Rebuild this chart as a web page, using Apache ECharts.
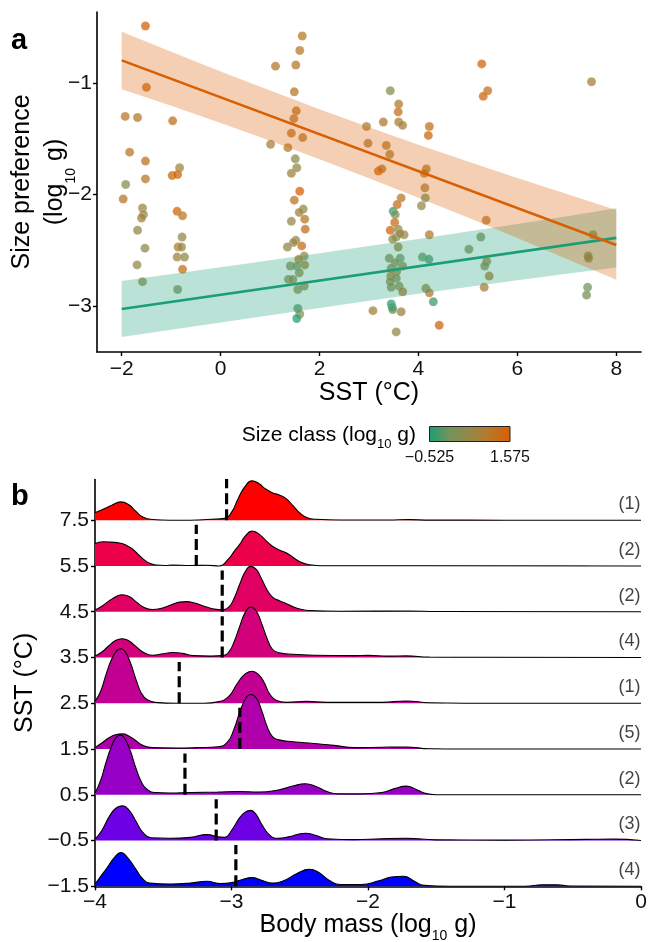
<!DOCTYPE html>
<html><head><meta charset="utf-8">
<script src="https://cdn.jsdelivr.net/npm/echarts@6/dist/echarts.min.js"></script>
<style>html,body{margin:0;padding:0;background:#fff}#c{width:648px;height:942px}</style>
</head><body><div id="c"></div>
<script>
// ---------- Panel a: scatter (SST vs size preference) ----------
const sst = [-1.52,-1.50,-1.93,-1.68,-0.97,-1.84,-1.52,-1.52,-1.92,-1.97,-0.83,-0.98,-0.87,-1.58,-1.56,-1.60,-0.88,-0.77,-1.68,-1.53,-1.69,-1.58,-0.78,-0.86,-0.79,-0.88,-0.73,-0.77,-0.87,
 1.65,1.60,1.11,1.52,1.49,1.53,1.48,1.43,1.66,1.01,1.36,1.51,1.54,1.43,1.60,1.49,1.67,1.59,1.70,1.43,1.71,1.52,1.47,1.35,1.64,1.69,1.58,1.70,1.41,1.54,1.59,1.37,1.46,1.69,1.56,1.56,1.60,1.54,
 3.43,3.60,3.59,3.29,3.60,3.68,2.95,4.22,4.20,2.98,3.35,3.42,3.19,3.26,4.16,4.12,4.13,4.14,4.06,3.65,3.57,3.49,3.53,3.52,3.43,3.59,3.55,3.48,3.71,3.63,4.22,3.59,3.41,3.63,3.53,3.68,4.08,4.21,3.45,3.56,3.44,3.55,3.43,3.45,3.61,3.68,4.15,4.22,4.30,3.45,3.47,3.48,3.08,3.65,3.55,4.42,
 5.28,5.40,5.31,7.50,5.37,5.26,5.02,5.38,5.34,5.43,5.33,7.53,7.43,7.44,7.42,7.40];
const sizePref = [-0.49,-1.04,-1.30,-1.31,-1.34,-1.62,-1.70,-1.86,-1.91,-2.04,-1.76,-1.83,-1.82,-2.12,-2.18,-2.21,-2.15,-2.19,-2.32,-2.48,-2.63,-2.78,-2.38,-2.47,-2.47,-2.56,-2.56,-2.67,-2.85,
 -0.58,-0.71,-0.85,-0.84,-1.08,-1.25,-1.32,-1.45,-1.49,-1.55,-1.58,-1.68,-1.76,-1.81,-1.97,-2.05,-2.13,-2.16,-2.22,-2.24,-2.31,-2.41,-2.43,-2.47,-2.46,-2.55,-2.58,-2.63,-2.64,-2.64,-2.70,-2.76,-2.76,-2.82,-2.85,-3.02,-3.07,-3.11,
 -1.07,-1.19,-1.26,-1.35,-1.35,-1.38,-1.39,-1.39,-1.47,-1.54,-1.56,-1.64,-1.79,-1.77,-1.77,-1.81,-1.94,-2.03,-2.10,-2.03,-2.09,-2.15,-2.18,-2.25,-2.32,-2.31,-2.38,-2.40,-2.36,-2.35,-2.36,-2.47,-2.57,-2.57,-2.61,-2.64,-2.56,-2.58,-2.66,-2.69,-2.73,-2.75,-2.78,-2.83,-2.82,-2.87,-2.84,-2.88,-2.96,-2.98,-3.01,-3.03,-3.04,-3.05,-3.23,-3.17,
 -0.83,-1.07,-1.12,-0.99,-2.23,-2.38,-2.49,-2.60,-2.64,-2.73,-2.83,-2.36,-2.55,-2.57,-2.83,-2.90];
const sizeClass = [1.51,1.35,1.05,1.05,1.15,1.05,1.15,1.05,0.30,1.05,0.63,1.40,1.40,0.63,0.55,0.70,1.45,1.00,0.45,0.40,0.45,0.50,0.50,0.95,0.55,0.70,0.45,1.20,0.20,
 1.00,1.00,0.95,1.00,1.05,1.15,0.95,1.15,1.05,0.75,1.00,0.25,0.45,0.65,1.55,1.05,0.45,0.65,1.05,0.50,1.15,0.70,0.50,0.45,1.20,0.40,1.10,0.90,0.40,0.20,0.50,0.45,0.50,0.45,0.50,-0.20,0.20,-0.45,
 0.30,0.95,1.20,0.95,0.90,0.70,0.85,1.25,1.35,0.95,1.00,0.75,1.45,1.15,1.00,0.95,0.75,-0.05,0.50,1.05,1.25,-0.35,0.20,1.20,1.45,0.45,0.20,0.45,0.45,0.55,0.95,0.75,0.40,0.10,0.45,0.40,-0.05,-0.25,0.45,0.65,0.90,0.45,0.60,0.45,0.45,0.95,0.65,0.95,-0.30,-0.40,-0.40,-0.10,0.70,0.70,0.45,1.40,
 1.45,1.20,1.35,0.85,0.95,0.25,0.25,0.70,0.45,0.95,0.85,0.40,0.20,0.45,0.00,0.05];

// regression fits and confidence bands
const fitX = [-2, 8];
const fitLarge = [-0.798, -2.451];
const fitSmall = [-3.025, -2.388];
const bandX = [-2,-1,0,1,2,3,4,5,6,7,8];
const largeLo = [-1.056,-1.205,-1.360,-1.519,-1.683,-1.853,-2.028,-2.206,-2.389,-2.576,-2.764];
const largeHi = [-0.541,-0.721,-0.898,-1.069,-1.235,-1.397,-1.553,-1.704,-1.851,-1.996,-2.138];
const smallLo = [-3.276,-3.210,-3.145,-3.080,-3.015,-2.951,-2.889,-2.828,-2.767,-2.709,-2.653];
const smallHi = [-2.774,-2.712,-2.651,-2.588,-2.525,-2.461,-2.397,-2.330,-2.263,-2.195,-2.123];
const xTicksA = [-2,0,2,4,6,8];
const yTicksA = [-3,-2,-1];
const legendMin = -0.525, legendMax = 1.575;

// ---------- Panel b: ridgelines of body mass ----------
const sstLevels = ['-1.5','-0.5','0.5','1.5','2.5','3.5','4.5','5.5','7.5'];
const ridgeM15 = [[-4,0.05],[-3.95,0.25],[-3.91,0.41],[-3.86,0.62],[-3.81,0.74],[-3.76,0.62],[-3.70,0.37],[-3.65,0.16],[-3.60,0.07],[-3.45,0.05],[-3.30,0.07],[-3.18,0.11],[-3.08,0.06],[-3.00,0.08],[-2.92,0.15],[-2.85,0.19],[-2.78,0.13],[-2.70,0.07],[-2.62,0.12],[-2.52,0.28],[-2.43,0.37],[-2.36,0.30],[-2.28,0.12],[-2.20,0.04],[-2.05,0.04],[-1.92,0.12],[-1.83,0.20],[-1.74,0.22],[-1.66,0.11],[-1.59,0.02],[-1.40,0.0],[-0.85,0.0],[-0.72,0.035],[-0.62,0.035],[-0.52,0.005],[0,0]];
const ridgeM05 = [[-4,0.03],[-3.95,0.22],[-3.90,0.50],[-3.85,0.70],[-3.80,0.76],[-3.75,0.66],[-3.70,0.42],[-3.65,0.18],[-3.59,0.06],[-3.45,0.05],[-3.30,0.07],[-3.18,0.13],[-3.10,0.08],[-3.05,0.07],[-3.00,0.22],[-2.94,0.50],[-2.90,0.62],[-2.86,0.66],[-2.82,0.57],[-2.78,0.36],[-2.72,0.12],[-2.66,0.05],[-2.58,0.08],[-2.46,0.16],[-2.38,0.11],[-2.30,0.04],[-2.10,0.02],[-1.90,0.04],[-1.72,0.05],[-1.50,0.015],[-1.0,0.01],[-0.4,0.025],[-0.2,0.03],[0,0]];
const ridge05 = [[-4,0.04],[-3.96,0.30],[-3.92,0.70],[-3.88,1.05],[-3.84,1.27],[-3.81,1.30],[-3.78,1.22],[-3.74,0.95],[-3.70,0.58],[-3.66,0.28],[-3.62,0.12],[-3.56,0.05],[-3.45,0.04],[-3.30,0.05],[-3.10,0.06],[-2.95,0.07],[-2.80,0.06],[-2.65,0.11],[-2.55,0.19],[-2.46,0.24],[-2.38,0.18],[-2.30,0.07],[-2.22,0.02],[-2.05,0.02],[-1.90,0.05],[-1.80,0.14],[-1.72,0.19],[-1.65,0.12],[-1.58,0.03],[-1.50,0.0],[0,0]];
const ridge15 = [[-4,0.03],[-3.95,0.13],[-3.90,0.24],[-3.85,0.31],[-3.80,0.33],[-3.75,0.28],[-3.70,0.18],[-3.65,0.08],[-3.58,0.03],[-3.40,0.02],[-3.25,0.03],[-3.10,0.05],[-3.03,0.15],[-2.98,0.45],[-2.94,0.80],[-2.90,1.08],[-2.86,1.19],[-2.82,1.12],[-2.78,0.85],[-2.74,0.50],[-2.70,0.27],[-2.65,0.20],[-2.55,0.16],[-2.40,0.12],[-2.25,0.08],[-2.10,0.03],[-1.90,0.04],[-1.72,0.045],[-1.55,0.005],[-1.3,0],[0,0]];
const ridge25 = [[-4,0.04],[-3.96,0.25],[-3.92,0.62],[-3.88,0.95],[-3.84,1.15],[-3.81,1.19],[-3.78,1.13],[-3.74,0.88],[-3.70,0.52],[-3.66,0.22],[-3.62,0.08],[-3.56,0.02],[-3.40,0.0],[-3.20,0.0],[-3.10,0.03],[-3.02,0.15],[-2.96,0.42],[-2.90,0.64],[-2.85,0.70],[-2.80,0.62],[-2.76,0.45],[-2.72,0.20],[-2.67,0.06],[-2.60,0.02],[-2.45,0.04],[-2.30,0.02],[-1.90,0.02],[-1.72,0.05],[-1.55,0.01],[-1.3,0],[0,0]];
const ridge35 = [[-4,0.03],[-3.95,0.12],[-3.90,0.25],[-3.85,0.37],[-3.80,0.41],[-3.75,0.36],[-3.70,0.24],[-3.65,0.12],[-3.58,0.05],[-3.50,0.08],[-3.43,0.11],[-3.36,0.09],[-3.28,0.04],[-3.15,0.03],[-3.07,0.04],[-3.02,0.12],[-2.98,0.35],[-2.94,0.68],[-2.90,0.98],[-2.86,1.10],[-2.82,1.02],[-2.78,0.75],[-2.74,0.42],[-2.70,0.18],[-2.65,0.10],[-2.55,0.07],[-2.40,0.05],[-2.10,0.04],[-2.0,0.045],[-1.85,0.03],[-1.72,0.035],[-1.55,0.01],[-1.2,0.005],[0,0]];
const ridge45 = [[-4,0.04],[-3.95,0.12],[-3.89,0.25],[-3.84,0.34],[-3.80,0.37],[-3.75,0.33],[-3.70,0.22],[-3.65,0.11],[-3.58,0.05],[-3.52,0.07],[-3.45,0.14],[-3.38,0.21],[-3.33,0.22],[-3.27,0.19],[-3.20,0.12],[-3.13,0.06],[-3.07,0.04],[-3.02,0.10],[-2.98,0.30],[-2.94,0.60],[-2.90,0.87],[-2.86,0.99],[-2.82,0.93],[-2.78,0.72],[-2.74,0.48],[-2.70,0.32],[-2.65,0.24],[-2.60,0.18],[-2.55,0.11],[-2.50,0.06],[-2.43,0.025],[-2.2,0.01],[-1.7,0.015],[-1.5,0.005],[0,0]];
const ridge55 = [[-4,0.49],[-3.94,0.53],[-3.88,0.52],[-3.82,0.50],[-3.77,0.45],[-3.73,0.38],[-3.69,0.27],[-3.65,0.16],[-3.60,0.06],[-3.55,0.02],[-3.49,0.01],[-3.43,0.02],[-3.30,0.01],[-3.18,0.015],[-3.09,0.0],[-3.02,0.16],[-2.98,0.32],[-2.94,0.47],[-2.90,0.65],[-2.85,0.76],[-2.80,0.70],[-2.75,0.56],[-2.70,0.43],[-2.65,0.35],[-2.60,0.29],[-2.55,0.19],[-2.50,0.09],[-2.44,0.03],[-2.35,0.005],[-1.5,0.005],[0,0]];
const ridge75 = [[-4,0.16],[-3.94,0.24],[-3.88,0.32],[-3.81,0.40],[-3.75,0.33],[-3.70,0.19],[-3.65,0.07],[-3.58,0.015],[-3.45,0.0],[-3.30,0.0],[-3.15,0.02],[-3.05,0.04],[-3.00,0.17],[-2.95,0.48],[-2.90,0.74],[-2.85,0.86],[-2.80,0.80],[-2.75,0.68],[-2.70,0.60],[-2.65,0.55],[-2.60,0.47],[-2.55,0.32],[-2.50,0.16],[-2.45,0.06],[-2.38,0.02],[-2.20,0.005],[-1.85,0.004],[-1.70,0.012],[-1.55,0.002],[-1.0,0],[0,0]];
const ridges = [ridgeM15, ridgeM05, ridge05, ridge15, ridge25, ridge35, ridge45, ridge55, ridge75];
const ridgeColors = ['#0000FF','#6D00E4','#9500C4','#AF00AB','#C20092','#D2007A','#DF0062','#EB0049','#FF0000'];
const meanMass = [-2.968,-3.112,-3.341,-2.939,-3.383,-3.068,-3.068,-3.258,-3.036];
const counts = ['(4)','(3)','(2)','(5)','(1)','(4)','(2)','(2)','(1)'];
const xTicksB = [-4,-3,-2,-1,0];

// ---------- build ----------
const MINUS = '\u2212';
const fmtNum = v => (v < 0 ? MINUS + String(Math.abs(v)) : String(v));
const FONT = 'Liberation Sans, Arial, Helvetica, sans-serif';
const axisCommon = {
  nameMoveOverlap: false,
  axisLine: {onZero: false, lineStyle: {color: '#000', width: 1.6}},
  axisTick: {length: 4, lineStyle: {color: '#000', width: 1.4}},
  splitLine: {show: false},
  axisLabel: {color: '#111', fontSize: 21, fontFamily: FONT}
};
const subRich = {s: {fontSize: 14, fontFamily: FONT, color: '#000', verticalAlign: 'bottom', padding: [0, 0, -6, 0]}};

function bandSeries(lo, hi, color) {
  return {
    type: 'custom', xAxisIndex: 0, yAxisIndex: 0, z: 3, silent: true,
    data: bandX.map((x, i) => [x, lo[i], hi[i]]),
    renderItem: function (params, api) {
      if (params.dataIndex !== 0) return null;
      const pts = [];
      for (let i = 0; i < bandX.length; i++) pts.push(api.coord([bandX[i], hi[i]]));
      for (let i = bandX.length - 1; i >= 0; i--) pts.push(api.coord([bandX[i], lo[i]]));
      return {type: 'polygon', shape: {points: pts}, style: {fill: color, opacity: 0.3}};
    }
  };
}

const scatterData = sst.map((x, i) => [x, sizePref[i], sizeClass[i]]);

const series = [
  {type: 'scatter', xAxisIndex: 0, yAxisIndex: 0, z: 2, data: scatterData, symbolSize: 9,
   itemStyle: {opacity: 0.75, borderColor: 'rgba(255,255,255,0.3)', borderWidth: 0.8}},
  bandSeries(smallLo, smallHi, '#1B9E77'),
  {type: 'line', xAxisIndex: 0, yAxisIndex: 0, z: 4, data: fitX.map((x, i) => [x, fitSmall[i]]), showSymbol: false, symbol: 'none',
   lineStyle: {color: '#1B9E77', width: 2.6}},
  bandSeries(largeLo, largeHi, '#D95F02'),
  {type: 'line', xAxisIndex: 0, yAxisIndex: 0, z: 6, data: fitX.map((x, i) => [x, fitLarge[i]]), showSymbol: false, symbol: 'none',
   lineStyle: {color: '#D95F02', width: 2.6}}
];

// ridges: top first, lower ridges drawn over upper ones
for (let i = ridges.length - 1; i >= 0; i--) {
  series.push({
    type: 'line', xAxisIndex: 1, yAxisIndex: 1, z: 10 + (ridges.length - i),
    data: ridges[i].map(p => [p[0], i + p[1]]),
    smooth: 0.5, showSymbol: false, symbol: 'none',
    lineStyle: {color: '#000', width: 1.1},
    areaStyle: {color: ridgeColors[i], opacity: 1, origin: i}
  });
}
series.push({
  type: 'custom', xAxisIndex: 1, yAxisIndex: 1, z: 40, silent: true,
  data: meanMass.map((m, i) => [m, i]),
  renderItem: function (params, api) {
    const p0 = api.coord([api.value(0), api.value(1)]);
    const p1 = api.coord([api.value(0), api.value(1) + 0.9]);
    return {type: 'line', shape: {x1: p0[0], y1: p0[1], x2: p1[0], y2: p1[1]},
      style: {stroke: '#000', lineWidth: 3.2, lineDash: [11, 5]}};
  }
});
series.push({
  type: 'scatter', xAxisIndex: 1, yAxisIndex: 1, z: 41, silent: true, symbolSize: 1,
  itemStyle: {color: 'rgba(0,0,0,0)'},
  data: counts.map((c, i) => [0, i + 0.35, c]),
  label: {show: true, position: 'left', distance: 0, formatter: p => p.data[2], fontSize: 18, color: '#111', fontFamily: FONT}
});

const option = {
  animation: false,
  backgroundColor: '#fff',
  textStyle: {fontFamily: FONT},
  grid: [
    {left: 97, right: 7, top: 12, bottom: 590, outerBoundsMode: 'none', containLabel: false},
    {left: 95, right: 7, top: 479.5, bottom: 55.7, outerBoundsMode: 'none', containLabel: false}
  ],
  visualMap: {type: 'continuous', show: false, seriesIndex: 0, dimension: 2, min: legendMin, max: legendMax,
    inRange: {color: ['#1B9E77', '#73945A', '#968848', '#B87727', '#D95F02']}},
  xAxis: [
    Object.assign({}, axisCommon, {type: 'value', gridIndex: 0, min: -2.5, max: 8.5,
      axisTick: Object.assign({}, axisCommon.axisTick, {customValues: xTicksA}),
      axisLabel: Object.assign({}, axisCommon.axisLabel, {customValues: xTicksA, formatter: fmtNum, margin: 7}),
      name: 'SST (°C)', nameLocation: 'middle', nameGap: 29,
      nameTextStyle: {fontSize: 25, color: '#000', fontFamily: FONT}}),
    Object.assign({}, axisCommon, {type: 'value', gridIndex: 1, min: -4, max: 0, interval: 1,
      axisTick: Object.assign({}, axisCommon.axisTick, {customValues: xTicksB}),
      axisLabel: Object.assign({}, axisCommon.axisLabel, {customValues: xTicksB, formatter: fmtNum, margin: 5}),
      name: 'Body mass (log{s|10} g)', nameLocation: 'middle', nameGap: 26,
      nameTextStyle: {fontSize: 25, color: '#000', fontFamily: FONT, rich: subRich}})
  ],
  yAxis: [
    Object.assign({}, axisCommon, {type: 'value', gridIndex: 0, min: -3.41, max: -0.365,
      axisTick: Object.assign({}, axisCommon.axisTick, {customValues: yTicksA}),
      axisLabel: Object.assign({}, axisCommon.axisLabel, {customValues: yTicksA, formatter: fmtNum, margin: 5}),
      name: '{t|Size preference}\n{t|(log}{s|10}{t| g)}', nameLocation: 'middle', nameGap: 25, nameRotate: 90,
      nameTextStyle: {color: '#000', fontFamily: FONT,
        rich: {t: {fontSize: 25, lineHeight: 33, color: '#000', fontFamily: FONT}, s: subRich.s}}}),
    Object.assign({}, axisCommon, {type: 'value', gridIndex: 1, min: 0, max: 8.889,
      axisTick: Object.assign({}, axisCommon.axisTick, {customValues: [0,1,2,3,4,5,6,7,8]}),
      axisLabel: Object.assign({}, axisCommon.axisLabel, {customValues: [0,1,2,3,4,5,6,7,8],
        formatter: v => { const s = sstLevels[Math.round(v)]; return s ? s.replace('-', MINUS) : ''; }, margin: 6}),
      name: 'SST (°C)', nameLocation: 'middle', nameGap: 57, nameRotate: 90,
      nameTextStyle: {fontSize: 25, color: '#000', fontFamily: FONT}})
  ],
  graphic: [
    {type: 'text', left: 11, top: 26, style: {text: 'a', font: 'bold 29px ' + FONT, fill: '#000'}},
    {type: 'text', left: 11, top: 482, style: {text: 'b', font: 'bold 29px ' + FONT, fill: '#000'}},
    {type: 'text', x: 416, y: 435, style: {text: '{t|Size class (log}{s|10}{t| g)}', align: 'right', verticalAlign: 'middle',
      rich: {t: {fontSize: 21, fontFamily: FONT, color: '#000'}, s: {fontSize: 13, fontFamily: FONT, color: '#000', verticalAlign: 'bottom', padding: [0,0,-5,0]}}}},
    {type: 'rect', shape: {x: 429.5, y: 426.5, width: 80.5, height: 15},
      style: {fill: new echarts.graphic.LinearGradient(0, 0, 1, 0, [
        {offset: 0, color: '#1B9E77'}, {offset: 0.25, color: '#73945A'}, {offset: 0.5, color: '#968848'},
        {offset: 0.75, color: '#B87727'}, {offset: 1, color: '#D95F02'}]), stroke: '#222', lineWidth: 1}},
    {type: 'text', x: 429.5, y: 458, style: {text: fmtNum(legendMin), align: 'center', verticalAlign: 'middle', font: '16px ' + FONT, fill: '#111'}},
    {type: 'text', x: 510, y: 458, style: {text: String(legendMax), align: 'center', verticalAlign: 'middle', font: '16px ' + FONT, fill: '#111'}}
  ],
  series: series
};

const chart = echarts.init(document.getElementById('c'), null, {width: 648, height: 942});
chart.setOption(option);
</script></body></html>
